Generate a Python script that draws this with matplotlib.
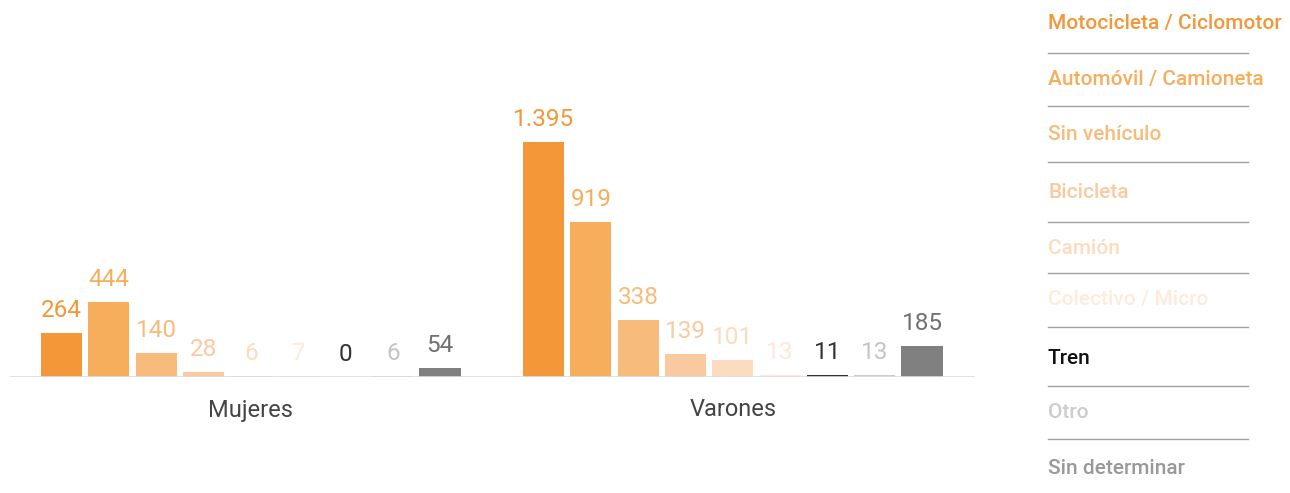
import matplotlib.pyplot as plt
from matplotlib.lines import Line2D

plt.rcParams['font.family'] = ['Roboto', 'DejaVu Sans']

groups = ["Mujeres", "Varones"]
categories = ["Motocicleta / Ciclomotor", "Automóvil / Camioneta", "Sin vehículo",
              "Bicicleta", "Camión", "Colectivo / Micro", "Tren", "Otro",
              "Sin determinar"]
mujeres = [264, 444, 140, 28, 6, 7, 0, 6, 54]
varones = [1395, 919, 338, 139, 101, 13, 11, 13, 185]

bar_colors = ["#f39739", "#f6ae5c", "#f7bb7b", "#f9caa0", "#fcdcbe",
              "#fde9da", "#333333", "#cccccc", "#808080"]
label_colors = ["#f39739", "#f6ae5c", "#f7bb7b", "#f9caa0", "#fcdcbe",
                "#fde9da", "#333333", "#c4c4c4", "#707070"]
legend_colors = ["#f39739", "#f6ae5c", "#f7bb7b", "#f9caa0", "#fcdcbe",
                 "#fdebdc", "#111111", "#cccccc", "#999999"]


def fmt(v):
    return f"{v:,}".replace(",", ".")


W, H = 1290, 493
fig = plt.figure(figsize=(W / 100, H / 100), dpi=100)
# axes: baseline at y=377px, 1395 reaches y=142px
px_per_unit = 235 / 1395
ax_h = 330
ax = fig.add_axes([10 / W, (H - 377) / H, 965 / W, ax_h / H])
ax.set_ylim(0, ax_h / px_per_unit)
ax.set_xlim(-1.09, 19.31)

offset = 10.19
width = 0.87
for gi, vals in enumerate([mujeres, varones]):
    for i, v in enumerate(vals):
        x = gi * offset + i
        ax.bar(x, v, width=width, color=bar_colors[i], linewidth=0)
        ax.annotate(fmt(v), (x, v), xytext=(0, 11.5), textcoords="offset points",
                    ha="center", va="baseline", fontsize=17.5, fontweight="normal",
                    color=label_colors[i], clip_on=False)
    ax.text(gi * offset + 4, -33 / px_per_unit, groups[gi], ha="center",
            va="center", fontsize=17, color="#444444")

ax.axhline(0, color="#dddddd", linewidth=1.2)
for s in ax.spines.values():
    s.set_visible(False)
ax.set_xticks([])
ax.set_yticks([])
ax.patch.set_alpha(0)

# legend at right
text_y = [23, 79, 134, 192, 249, 300, 358, 412, 468]
line_y = [53, 106, 162, 222, 273, 327, 386, 439]
for cat, col, y in zip(categories, legend_colors, text_y):
    fig.text(1048 / W, 1 - y / H, cat, ha="left", va="center", fontsize=15,
             fontweight="medium", color=col)
for y in line_y:
    fig.add_artist(Line2D([1048 / W, 1248 / W], [1 - y / H, 1 - y / H],
                          color="#a0a0a0", linewidth=1))

fig.savefig("out.png", dpi=100)
